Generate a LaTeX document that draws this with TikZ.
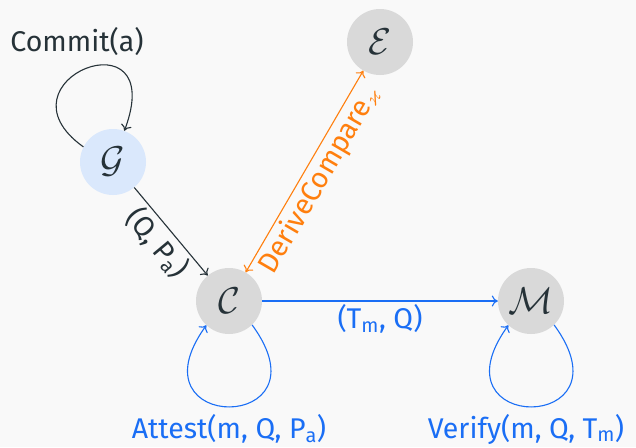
\documentclass[tikz,border=0pt]{standalone}
\usepackage{amsmath,amssymb}
\usepackage{fontspec}
\setmainfont{Fira Sans}
\usetikzlibrary{arrows.meta}
\definecolor{bg}{HTML}{F9F9F9}
\definecolor{ink}{HTML}{263238}
\definecolor{gfill}{HTML}{DAE8FC}
\definecolor{nfill}{HTML}{D9D9D9}
\definecolor{blu}{HTML}{1A6EF5}
\definecolor{org}{HTML}{FF7F0E}
\newcommand{\bigcal}[1]{\scalebox{1.5}{$\mathcal{#1}$}}
\begin{document}
\begin{tikzpicture}[x=1pt,y=-1pt,
  font=\fontsize{28.5}{34}\selectfont,
  state/.style={circle, minimum size=66pt, inner sep=0pt, fill=nfill, text=ink},
  edge/.style={line width=1.1pt, -{To[length=6pt,width=11pt]}},
  lbl/.style={inner sep=3pt}]
\fill[bg] (0,0) rectangle (636,447);
\useasboundingbox (0,0) rectangle (636,447);

\node[state, fill=gfill] (G) at (113,162) {\bigcal{G}};
\node[state] (E) at (380,42) {\bigcal{E}};
\node[state] (C) at (229,301) {\bigcal{C}};
\node[state] (M) at (531,301) {\bigcal{M}};

% G self loop
\draw[edge, ink] (G.153) .. controls (-10,80) and (170,10) .. (G.70);
\node[text=ink] (lc) at (77,42) {Commit(a)};

% G -> C
\draw[edge, ink] (G) -- node[sloped, below, lbl, text=ink] {(Q, P$_\text{a}$)} (C);

% C <-> E
\draw[line width=1.1pt, org, {To[length=6pt,width=11pt]}-{To[length=6pt,width=11pt]}] (C) -- node[sloped, below, lbl, text=org] {DeriveCompare$_\varkappa$} (E);

% C -> M
\draw[edge, blu] (C) -- node[below, lbl, text=blu] {(T$_\text{m}$, Q)} (M);

% C self loop
\draw[edge, blu] (C.-46) .. controls +(80,109) and +(-79,109) .. (C.-133);
\node[text=blu] (la) at (229,429) {Attest(m, Q, P$_\text{a}$)};

% M self loop
\draw[edge, blu] (M.-46) .. controls +(80,109) and +(-79,109) .. (M.-133);
\node[text=blu] (lv) at (526,429) {Verify(m, Q, T$_\text{m}$)};
\end{tikzpicture}
\end{document}
